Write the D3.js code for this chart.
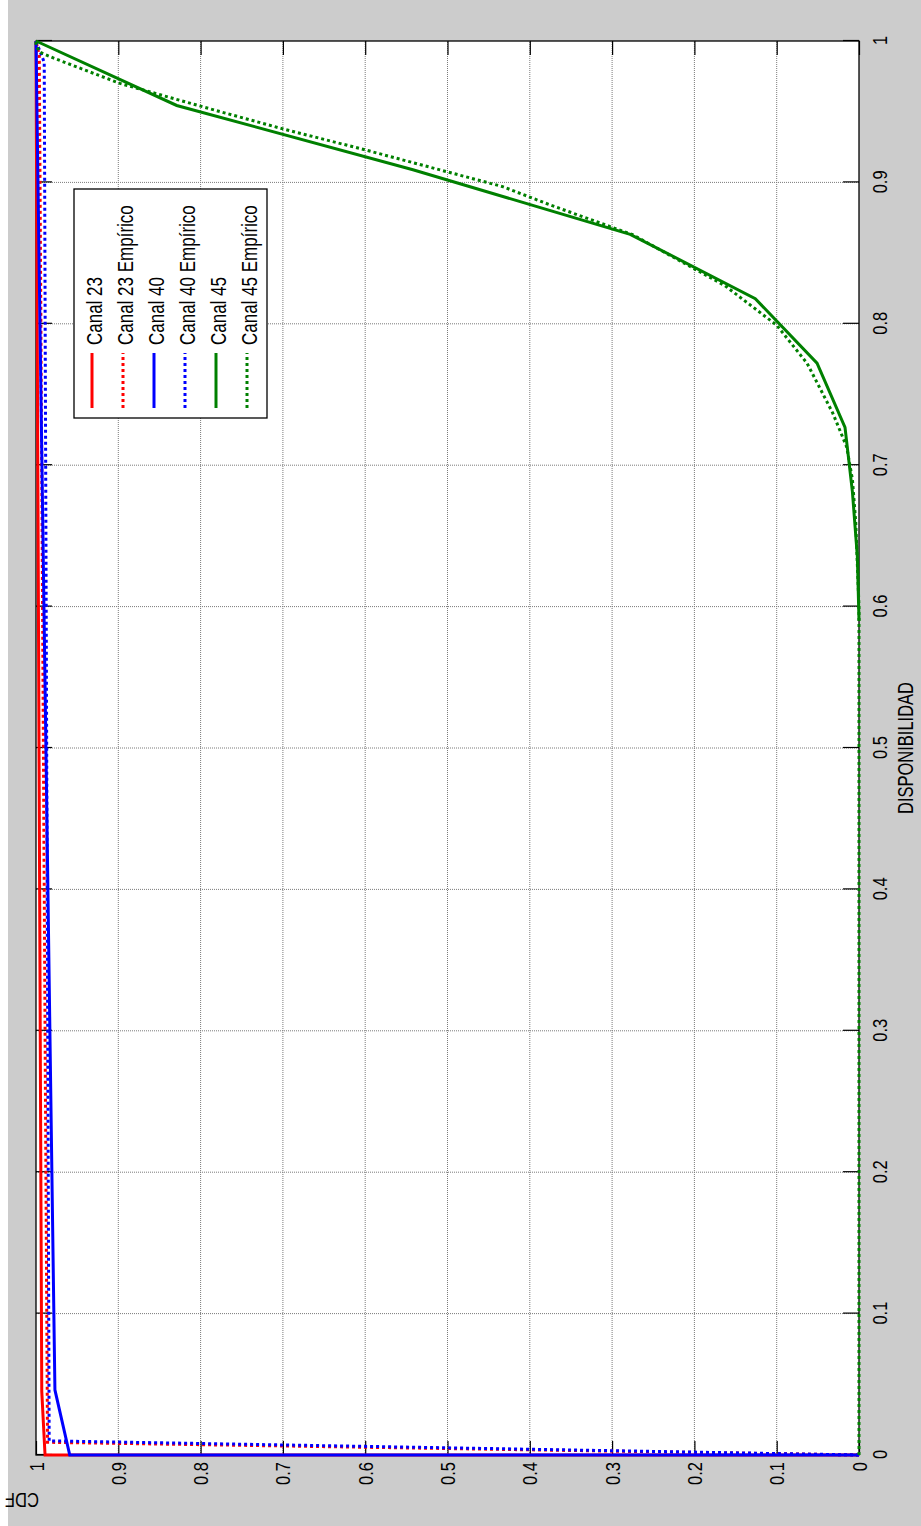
<!DOCTYPE html>
<html>
<head>
<meta charset="utf-8">
<script src="https://cdn.jsdelivr.net/npm/d3@7"></script>
<style>
  html, body { margin: 0; padding: 0; background: #ffffff; }
  svg { display: block; }
  text { font-family: "Liberation Sans", Arial, Helvetica, sans-serif; fill: #000; }
</style>
</head>
<body>
<svg id="chart" width="921" height="1526"></svg>
<script>
// ---------------- DATA ----------------
const xTicks = [0, 0.1, 0.2, 0.3, 0.4, 0.5, 0.6, 0.7, 0.8, 0.9, 1];
const yTicks = [0, 0.1, 0.2, 0.3, 0.4, 0.5, 0.6, 0.7, 0.8, 0.9, 1];
const xLabel = "DISPONIBILIDAD";
const yLabel = "CDF";

const canal23X    = [0, 0, 0.045, 1];
const canal23Cdf  = [0, 0.989, 0.993, 1];
const canal23EX   = [0, 0.009, 0.99, 1];
const canal23ECdf = [0, 0.986, 0.996, 1];

const canal40X    = [0, 0, 0.046, 1];
const canal40Cdf  = [0, 0.959, 0.977, 1];
const canal40EX   = [0, 0.010, 0.985, 1];
const canal40ECdf = [0, 0.984, 0.990, 1];

const canal45X    = [0.59, 0.6356, 0.6811, 0.7267, 0.7722, 0.8178, 0.8633, 0.9089, 0.9544, 1];
const canal45Cdf  = [0, 0.002, 0.008, 0.017, 0.051, 0.126, 0.278, 0.542, 0.829, 1];
const canal45EX   = [0, 0.60, 0.63, 0.66, 0.69, 0.713, 0.737, 0.772, 0.799, 0.827, 0.863, 0.884, 0.897, 0.923, 0.938, 0.950, 0.970, 0.988, 0.992, 0.997, 1];
const canal45ECdf = [0, 0, 0.002, 0.004, 0.008, 0.015, 0.032, 0.063, 0.10, 0.163, 0.275, 0.375, 0.433, 0.600, 0.701, 0.776, 0.898, 0.979, 0.995, 1, 1];

const seriesNames  = ["Canal 23", "Canal 23 Empírico", "Canal 40", "Canal 40 Empírico", "Canal 45", "Canal 45 Empírico"];
const seriesColors = ["#ff0000", "#ff0000", "#0000ff", "#0000ff", "#008000", "#008000"];
const seriesDashed = [false, true, false, true, false, true];
const seriesX   = [canal23X, canal23EX, canal40X, canal40EX, canal45X, canal45EX];
const seriesCdf = [canal23Cdf, canal23ECdf, canal40Cdf, canal40ECdf, canal45Cdf, canal45ECdf];

// ---------------- LAYOUT ----------------
(function () {
const W = 921, H = 1526;
const svg = d3.select("#chart");
svg.append("rect").attr("x", 0).attr("y", 0).attr("width", W).attr("height", H).attr("fill", "#ffffff");
svg.append("rect").attr("x", 8).attr("y", 0).attr("width", W - 8).attr("height", H).attr("fill", "#cccccc");

// The whole figure is drawn in its natural orientation and rotated 90deg counter-clockwise.
const g = svg.append("g").attr("transform", `translate(0,${H}) rotate(-90)`);

const pL = 71, pR = 1485, pT = 36, pB = 859;
const xs = d3.scaleLinear().domain([0, 1]).range([pL, pR]);
const ys = d3.scaleLinear().domain([0, 1]).range([pB, pT]);
const FS = 16.5, STRETCH = 1.2;

g.append("rect").attr("x", pL).attr("y", pT).attr("width", pR - pL).attr("height", pB - pT).attr("fill", "#ffffff");

// grid
const grid = g.append("g");
grid.selectAll("line.gx").data(xTicks.slice(1, -1)).enter().append("line")
  .attr("x1", d => xs(d)).attr("x2", d => xs(d)).attr("y1", pT).attr("y2", pB)
  .attr("stroke", "#7a7a7a").attr("stroke-width", 1).attr("stroke-dasharray", "1,1");
grid.selectAll("line.gy").data(yTicks.slice(1, -1)).enter().append("line")
  .attr("x1", pL).attr("x2", pR).attr("y1", d => ys(d)).attr("y2", d => ys(d))
  .attr("stroke", "#7a7a7a").attr("stroke-width", 1).attr("stroke-dasharray", "1,1");

// axes
const fmt = d3.format("~g");
const axB = g.append("g").attr("transform", `translate(0,${pB})`)
  .call(d3.axisBottom(xs).tickValues(xTicks).tickFormat(fmt).tickSizeInner(-16).tickSizeOuter(0).tickPadding(12));
const axT = g.append("g").attr("transform", `translate(0,${pT})`)
  .call(d3.axisTop(xs).tickValues(xTicks).tickFormat("").tickSizeInner(-16).tickSizeOuter(0));
const axL = g.append("g").attr("transform", `translate(${pL},0)`)
  .call(d3.axisLeft(ys).tickValues(yTicks).tickFormat(fmt).tickSizeInner(-14).tickSizeOuter(0).tickPadding(7));
const axR = g.append("g").attr("transform", `translate(${pR},0)`)
  .call(d3.axisRight(ys).tickValues(yTicks).tickFormat("").tickSizeInner(-14).tickSizeOuter(0));

[axB, axT, axL, axR].forEach(a => {
  a.select(".domain").remove();
  a.selectAll(".tick line").attr("stroke", "#000").attr("stroke-width", 1.2);
  a.selectAll("text").attr("font-family", null).attr("font-size", FS).attr("fill", "#000");
});
axB.selectAll(".tick text").attr("y", 0).attr("dy", null)
  .attr("transform", `translate(0,28) scale(1,${STRETCH})`);
axL.selectAll(".tick text").attr("x", 0).attr("dy", null).attr("text-anchor", "end")
  .attr("transform", `translate(-7,${0.358 * FS * STRETCH}) scale(1,${STRETCH})`);

// box
g.append("rect").attr("x", pL).attr("y", pT).attr("width", pR - pL).attr("height", pB - pT)
  .attr("fill", "none").attr("stroke", "#000").attr("stroke-width", 1.3);

// curves
const line = d3.line().x(d => xs(d[0])).y(d => ys(d[1]));
seriesNames.forEach((name, i) => {
  const pts = seriesX[i].map((x, k) => [x, seriesCdf[i][k]]);
  g.append("path").datum(pts).attr("d", line)
    .attr("fill", "none").attr("stroke", seriesColors[i]).attr("stroke-width", 3)
    .attr("stroke-linejoin", "miter")
    .attr("stroke-dasharray", seriesDashed[i] ? "3,3" : null);
});

// axis labels
g.append("text").attr("text-anchor", "middle")
  .attr("transform", `translate(${(pL + pR) / 2},913) scale(1,1.3)`)
  .attr("font-size", FS).text(xLabel);
g.append("text").attr("text-anchor", "middle")
  .attr("transform", `translate(26,22) rotate(-90) translate(0,${0.36 * FS * STRETCH}) scale(1,${STRETCH})`)
  .attr("font-size", FS).text(yLabel);

// legend
const lg = g.append("g");
const lgU0 = 1108, lgU1 = 1337, lgV0 = 74, lgV1 = 267;
lg.append("rect").attr("x", lgU0).attr("y", lgV0).attr("width", lgU1 - lgU0).attr("height", lgV1 - lgV0)
  .attr("fill", "#ffffff").attr("stroke", "#000").attr("stroke-width", 1.3);
const rowV = d3.scalePoint().domain(seriesNames).range([92, 247]);
seriesNames.forEach((name, i) => {
  const v = rowV(name);
  lg.append("line").attr("x1", 1118).attr("x2", 1173).attr("y1", v).attr("y2", v)
    .attr("stroke", seriesColors[i]).attr("stroke-width", 3)
    .attr("stroke-dasharray", seriesDashed[i] ? "3,3" : null);
  lg.append("text").attr("transform", `translate(1181,${v + 10}) scale(1,1.35)`)
    .attr("font-size", 17).text(name);
});
})();
</script>
</body>
</html>
